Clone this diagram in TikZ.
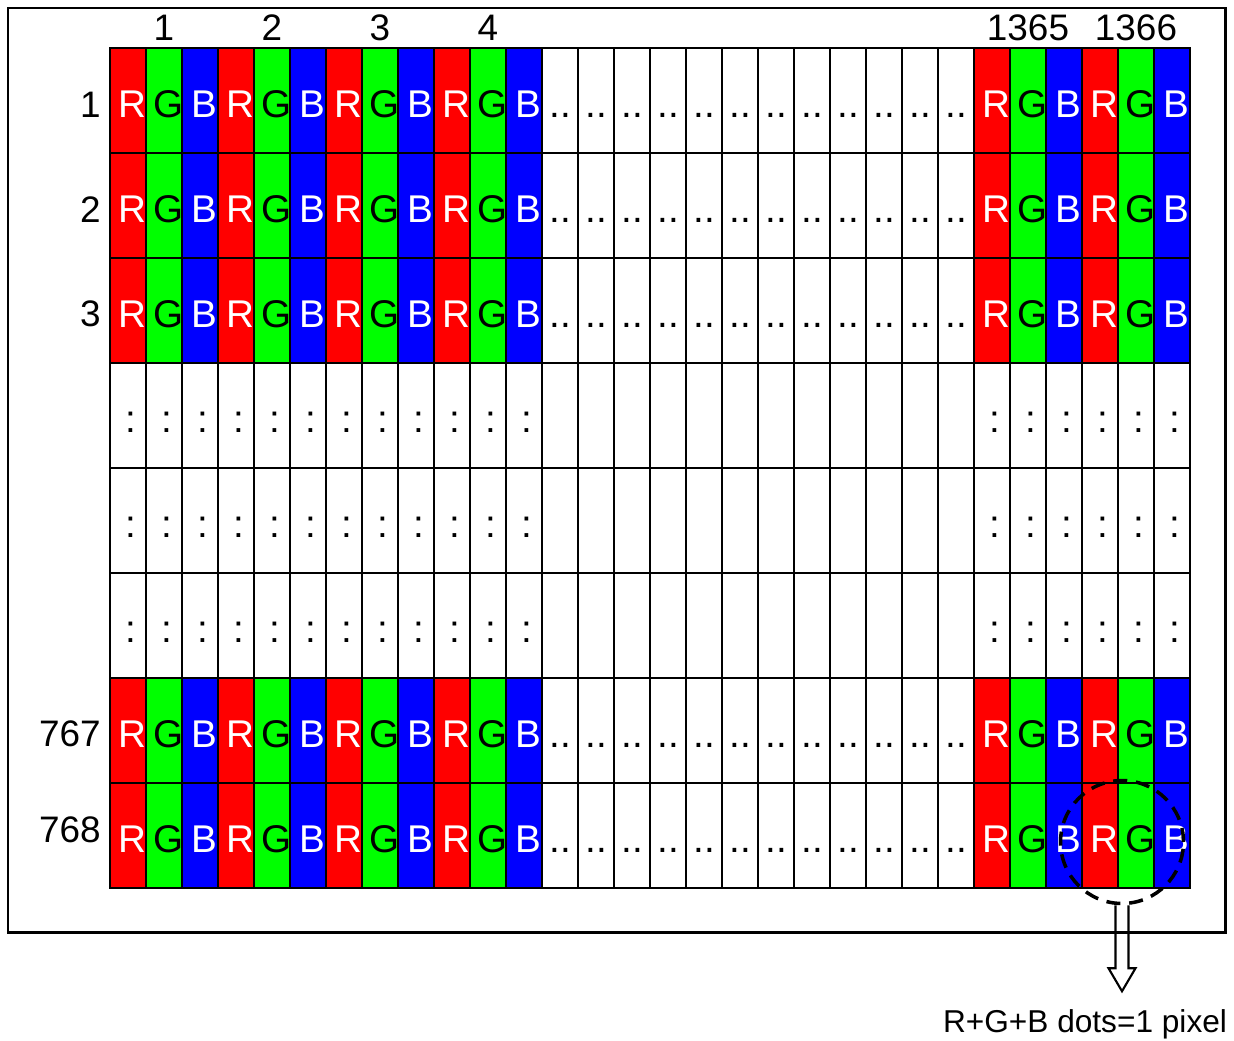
\documentclass[tikz,border=0pt]{standalone}
\usepackage{fontspec}
\setmainfont{Liberation Sans}
\usetikzlibrary{arrows.meta}

\definecolor{subR}{RGB}{255,0,0}
\definecolor{subG}{RGB}{0,255,0}
\definecolor{subB}{RGB}{0,0,255}

\begin{document}
\begin{tikzpicture}[x=0.02cm, y=-0.02cm,
          cell/.style={draw, line width=1.6pt, anchor=north west, inner sep=0pt, outer sep=0pt,
                       minimum width=0.72cm, minimum height=2.1cm},
          subtxt/.style={anchor=base, inner sep=0pt, font=\fontsize{22}{24}\selectfont},
          num/.style={inner sep=0pt, font=\fontsize{21}{24}\selectfont},
          pixring/.style={draw, circle, line width=2pt, dash pattern=on 8pt off 5pt,
                          minimum size=2.46cm, inner sep=0pt},
          note/.style={anchor=base, inner sep=0pt, font=\fontsize{18}{20}\selectfont}
        ]
        \fill[white] (0,0) rectangle (1234,1041);
        \useasboundingbox (0,0) rectangle (1234,1041);
        \draw[line width=1.7pt] (8,8) rectangle (1225,932);

        % celdas: sub-pixels
        \foreach \r in {1,...,8}
          \foreach \c in {1,...,30}{
            \pgfmathtruncatemacro{\m}{mod(\c-1,3)}
            \pgfmathtruncatemacro{\lit}{((\r<4)||(\r>6))&&((\c<13)||(\c>24))}
            \ifnum\lit=1
              \ifcase\m \def\fc{subR}\or \def\fc{subG}\else \def\fc{subB}\fi
            \else \def\fc{white}\fi
            \node[cell, fill=\fc] (c-\r-\c) at ({110+36*(\c-1)},{48+105*(\r-1)}) {};
          }

        % letras R G B
        \foreach \r in {1,2,3,7,8}
          \foreach \c in {1,...,12,25,26,27,28,29,30}{
            \pgfmathtruncatemacro{\m}{mod(\c-1,3)}
            \ifcase\m \def\lt{R}\def\tc{white}\or \def\lt{G}\def\tc{black}\else \def\lt{B}\def\tc{white}\fi
            \node[subtxt, text=\tc] at ([xshift=0.09cm, yshift=-0.34cm]c-\r-\c.center) {\lt};
          }

        % puntos verticales / horizontales
        \foreach \r in {4,5,6}
          \foreach \c in {1,...,12,25,26,27,28,29,30}
            \node[subtxt] at ([xshift=0.06cm, yshift=-0.34cm]c-\r-\c.center) {:};
        \foreach \r in {1,2,3,7,8}
          \foreach \c in {13,...,24}
            \node[subtxt] at ([yshift=-0.34cm]c-\r-\c.center) {..};

        % numeros de columna y fila
        \foreach \c/\t in {2/1, 5/2, 8/3, 11/4, 26/1365, 29/1366}
          \node[num, anchor=base] (col-\t) at ([yshift=0.16cm]c-1-\c.north) {\t};
        \foreach \r/\t/\dy in {1/1/0.34, 2/2/0.34, 3/3/0.32, 7/767/0.33, 8/768/0.15}
          \node[num, anchor=base east] (row-\t) at ([xshift=-0.18cm, yshift=-\dy cm]c-\r-1.west) {\t};

        % un pixel
        \node[pixring] (pix) at (1122,842) {};
        \coordinate (tip) at ([yshift=-1.72cm]pix.south);
        \draw[line width=1.2pt, line join=miter] ([xshift=-0.13cm]pix.south) -- ++(0,-1.26cm) -- ++(-0.14cm,0)
            -- (tip) -- ++(0.27cm,0.46cm) -- ++(-0.14cm,0) -- ++(0,1.26cm);
        \node[note] (note) at (1085,1032) {R+G+B dots=1 pixel};
      \end{tikzpicture}
\end{document}
